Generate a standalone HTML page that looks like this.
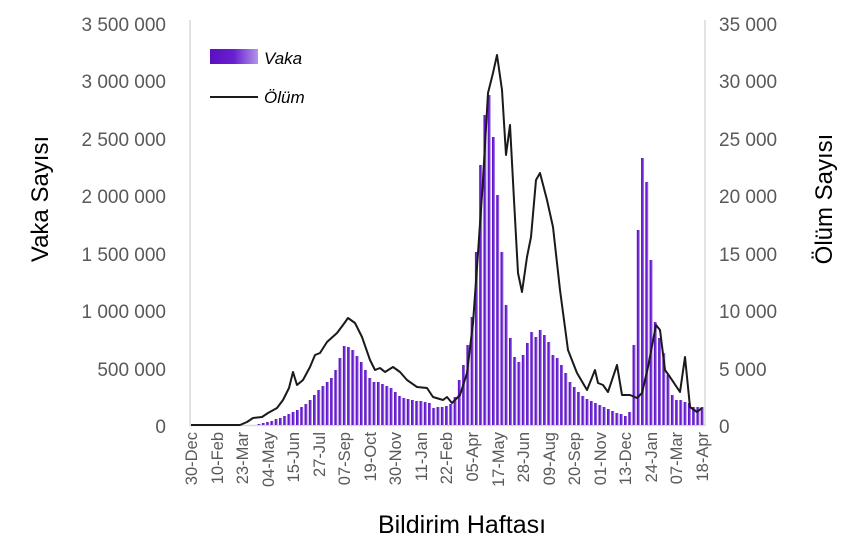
<!DOCTYPE html>
<html><head><meta charset="utf-8"><style>
body{margin:0;background:#fff;}
svg{display:block;font-family:"Liberation Sans",sans-serif;}
</style></head><body>
<svg id="s" width="859" height="547" viewBox="0 0 859 547">
<defs><linearGradient id="g" x1="0" x2="1" y1="0" y2="0"><stop offset="0" stop-color="#5a0fc0"/><stop offset="0.5" stop-color="#6a20d0"/><stop offset="1" stop-color="#b395ea"/></linearGradient></defs>
<g stroke="#d9d9d9" stroke-width="1.5">
<line x1="190" y1="20" x2="190" y2="426"/><line x1="705" y1="20" x2="705" y2="426"/><line x1="190" y1="425.5" x2="705" y2="425.5"/>
</g>
<g fill="#595959" font-size="19" text-anchor="end">
<text x="166" y="31">3 500 000</text><text x="166" y="88">3 000 000</text><text x="166" y="146">2 500 000</text><text x="166" y="203">2 000 000</text><text x="166" y="261">1 500 000</text><text x="166" y="318">1 000 000</text><text x="166" y="376">500 000</text><text x="166" y="433">0</text>
</g>
<g fill="#595959" font-size="19" text-anchor="start">
<text x="719" y="31">35 000</text><text x="719" y="88">30 000</text><text x="719" y="146">25 000</text><text x="719" y="203">20 000</text><text x="719" y="261">15 000</text><text x="719" y="318">10 000</text><text x="719" y="376">5 000</text><text x="719" y="433">0</text>
</g>
<text transform="translate(48,199) rotate(-90)" font-size="24" text-anchor="middle" fill="#000">Vaka Sayısı</text>
<text transform="translate(832,199) rotate(-90)" font-size="24" text-anchor="middle" fill="#000">Ölüm Sayısı</text>
<text x="462" y="533" font-size="25" text-anchor="middle" fill="#000">Bildirim Haftası</text>
<g id="bars"></g>
<polyline id="line" fill="none" stroke="#1a1a1a" stroke-width="2" stroke-linejoin="round"/>
<g fill="#595959" font-size="16.5" text-anchor="end">
<text transform="translate(197,432) rotate(-90)">30-Dec</text>
<text transform="translate(223,432) rotate(-90)">10-Feb</text>
<text transform="translate(248,432) rotate(-90)">23-Mar</text>
<text transform="translate(274,432) rotate(-90)">04-May</text>
<text transform="translate(299,432) rotate(-90)">15-Jun</text>
<text transform="translate(325,432) rotate(-90)">27-Jul</text>
<text transform="translate(350,432) rotate(-90)">07-Sep</text>
<text transform="translate(376,432) rotate(-90)">19-Oct</text>
<text transform="translate(401,432) rotate(-90)">30-Nov</text>
<text transform="translate(427,432) rotate(-90)">11-Jan</text>
<text transform="translate(452,432) rotate(-90)">22-Feb</text>
<text transform="translate(478,432) rotate(-90)">05-Apr</text>
<text transform="translate(504,432) rotate(-90)">17-May</text>
<text transform="translate(529,432) rotate(-90)">28-Jun</text>
<text transform="translate(555,432) rotate(-90)">09-Aug</text>
<text transform="translate(580,432) rotate(-90)">20-Sep</text>
<text transform="translate(606,432) rotate(-90)">01-Nov</text>
<text transform="translate(631,432) rotate(-90)">13-Dec</text>
<text transform="translate(657,432) rotate(-90)">24-Jan</text>
<text transform="translate(682,432) rotate(-90)">07-Mar</text>
<text transform="translate(708,432) rotate(-90)">18-Apr</text>
</g>
<rect x="210" y="49" width="48" height="15" fill="url(#g)"/>
<text x="264" y="64" font-size="17" font-style="italic" fill="#000">Vaka</text>
<line x1="210" y1="97" x2="258" y2="97" stroke="#1a1a1a" stroke-width="2"/>
<text x="264" y="103" font-size="17" font-style="italic" fill="#000">Ölüm</text>
</svg>
<script>
var tops={16:424,17:423,18:422,19:421,20:419,21:418,22:416,23:414,24:412,25:410,26:407,27:404,28:400,29:395,30:390,31:386,32:382,33:378,34:370,35:358,36:346,37:347,38:350,39:356,40:362,41:370,42:378,43:382,44:382,45:384,46:386,47:388,48:392,49:396,50:398,51:399,52:400,53:401,54:401,55:402,56:403,57:408,58:407,59:407,60:406,61:404,62:397,63:380,64:365,65:345,66:317,67:252,68:165,69:115,70:95,71:137,72:195,73:252,74:305,75:338,76:357,77:362,78:355,79:343,80:332,81:337,82:330,83:335,84:342,85:355,86:358,87:365,88:373,89:382,90:387,91:392,92:396,93:399,94:401,95:403,96:405,97:407,98:409,99:411,100:413,101:414,102:416,103:412,104:345,105:230,106:158,107:182,108:260,109:322,110:338,111:353,112:375,113:395,114:400,115:400,116:402,117:403,118:407,119:407,120:407};
var h='';
for(var i=0;i<=120;i++){var t=tops[i]; if(!t)continue; var x=191+4.26*i-1.5;
h+='<rect x="'+x.toFixed(2)+'" y="'+t+'" width="3" height="'+(425-t)+'" fill="url(#g)"/>';}
document.getElementById('bars').innerHTML=h;
var pts=[[191,425],[240,425],[247,422],[253,418],[262,417],[268,413],[277,408],[283,400],[289,388],[293,372],[297,385],[303,380],[310,367],[315,355],[320,353],[327,342],[337,333],[343,325],[348,318],[355,323],[362,337],[370,360],[375,370],[380,368],[385,372],[393,367],[400,372],[407,380],[417,387],[427,388],[433,397],[443,400],[447,397],[452,403],[460,395],[467,373],[473,323],[478,253],[483,180],[488,93],[493,73],[497,55],[502,90],[506,155],[510,125],[514,200],[518,273],[522,292],[527,257],[531,237],[536,180],[540,173],[547,200],[553,227],[560,290],[568,350],[577,373],[587,390],[595,370],[598,383],[603,385],[608,392],[617,365],[622,395],[630,395],[637,398],[642,393],[648,367],[656,325],[660,330],[665,370],[670,377],[680,392],[685,357],[690,407],[697,412],[702,408]];
document.getElementById('line').setAttribute('points',pts.map(function(p){return p.join(',')}).join(' '));
</script>
</body></html>
